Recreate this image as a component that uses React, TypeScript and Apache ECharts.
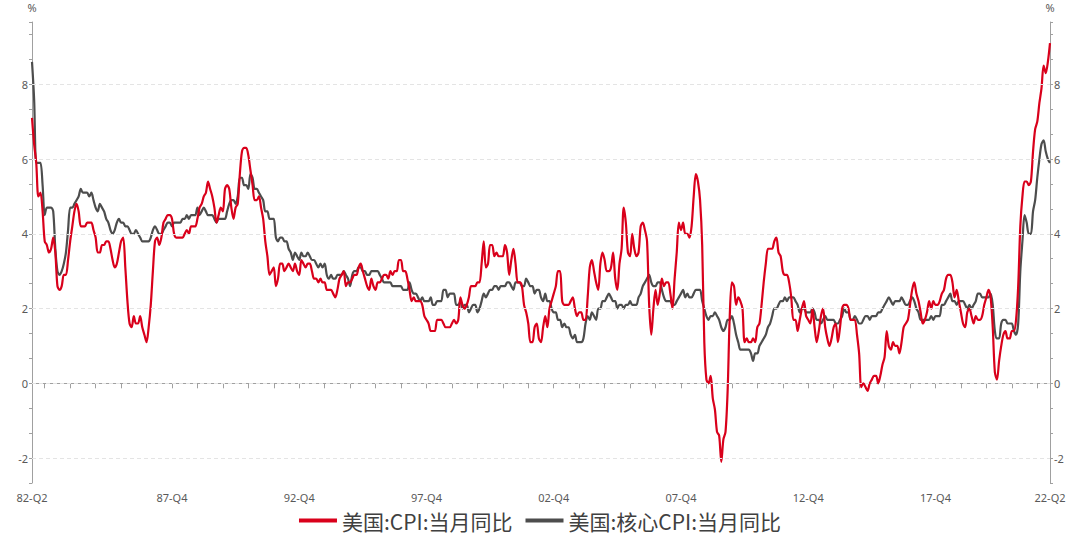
import React, { useEffect, useRef } from 'react';
import * as echarts from 'echarts';

// Monthly categories, Jun 1982 .. Jun 2022
const START = { year: 1982, month: 6 };
const END = { year: 2022, month: 6 };
const MONTHS: string[] = [];
{
  let y = START.year;
  let m = START.month;
  while (y < END.year || (y === END.year && m <= END.month)) {
    MONTHS.push(`${y}-${String(m).padStart(2, '0')}`);
    m++;
    if (m > 12) { m = 1; y++; }
  }
}

// Months that carry an x-axis label
const LABEL_MONTHS = ['1982-06', '1987-12', '1992-12', '1997-12', '2002-12', '2007-12', '2012-12', '2017-12', '2022-06'];
// Y values with a label and a dashed grid line
const Y_LABELS = [-2, 0, 2, 4, 6, 8];

const SERIES_CPI = '美国:CPI:当月同比';
const SERIES_CORE = '美国:核心CPI:当月同比';

// 美国:CPI:当月同比 (%), Jun 1982 .. Jun 2022
const CPI_YOY = [
  7.1, 6.4, 5.9, 5.0, 5.1, 4.6, 3.8, // 1982 Jun-Dec
  3.7, 3.5, 3.6, 3.9, 3.5, 2.6, 2.5, 2.6, 2.9, 2.9, 3.3, 3.8, // 1983
  4.2, 4.6, 4.8, 4.6, 4.2, 4.2, 4.2, 4.3, 4.3, 4.3, 4.1, 3.9, // 1984
  3.5, 3.5, 3.7, 3.7, 3.8, 3.8, 3.6, 3.3, 3.1, 3.2, 3.5, 3.8, // 1985
  3.9, 3.1, 2.2, 1.6, 1.5, 1.8, 1.6, 1.6, 1.8, 1.5, 1.3, 1.1, // 1986
  1.5, 2.1, 3.0, 3.8, 3.9, 3.7, 3.9, 4.3, 4.4, 4.5, 4.5, 4.4, // 1987
  4.0, 3.9, 3.9, 3.9, 3.9, 4.0, 4.1, 4.0, 4.2, 4.2, 4.2, 4.4, // 1988
  4.7, 4.8, 5.0, 5.1, 5.4, 5.2, 5.0, 4.7, 4.3, 4.5, 4.7, 4.6, // 1989
  5.2, 5.3, 5.2, 4.7, 4.4, 4.7, 4.8, 5.6, 6.2, 6.3, 6.3, 6.1, // 1990
  5.7, 5.3, 4.9, 4.9, 5.0, 4.7, 4.4, 3.8, 3.4, 2.9, 3.0, 3.1, // 1991
  2.6, 2.8, 3.2, 3.2, 3.0, 3.1, 3.2, 3.1, 3.0, 3.2, 3.0, 2.9, // 1992
  3.3, 3.2, 3.1, 3.2, 3.2, 3.0, 2.8, 2.8, 2.7, 2.8, 2.7, 2.7, // 1993
  2.5, 2.5, 2.5, 2.4, 2.3, 2.5, 2.8, 2.9, 3.0, 2.6, 2.7, 2.7, // 1994
  2.8, 2.9, 2.9, 3.1, 3.2, 3.0, 2.8, 2.6, 2.5, 2.8, 2.6, 2.5, // 1995
  2.7, 2.7, 2.8, 2.9, 2.9, 2.8, 3.0, 2.9, 3.0, 3.0, 3.3, 3.3, // 1996
  3.0, 3.0, 2.8, 2.5, 2.2, 2.3, 2.2, 2.2, 2.2, 2.1, 1.8, 1.7, // 1997
  1.6, 1.4, 1.4, 1.4, 1.7, 1.7, 1.7, 1.6, 1.5, 1.5, 1.5, 1.6, // 1998
  1.7, 1.6, 1.7, 2.3, 2.1, 2.0, 2.1, 2.3, 2.6, 2.6, 2.6, 2.7, // 1999
  2.7, 3.2, 3.8, 3.1, 3.2, 3.7, 3.7, 3.4, 3.5, 3.4, 3.4, 3.4, // 2000
  3.7, 3.5, 2.9, 3.3, 3.6, 3.2, 2.7, 2.7, 2.6, 2.1, 1.9, 1.6, // 2001
  1.1, 1.1, 1.5, 1.6, 1.2, 1.1, 1.5, 1.8, 1.5, 2.0, 2.2, 2.4, // 2002
  2.6, 3.0, 3.0, 2.2, 2.1, 2.1, 2.1, 2.2, 2.3, 2.0, 1.8, 1.9, // 2003
  1.9, 1.7, 1.7, 2.3, 3.1, 3.3, 3.0, 2.7, 2.5, 3.2, 3.5, 3.3, // 2004
  3.0, 3.0, 3.1, 3.5, 2.8, 2.5, 3.2, 3.6, 4.7, 4.3, 3.5, 3.4, // 2005
  4.0, 3.6, 3.4, 3.5, 4.2, 4.3, 4.1, 3.8, 2.1, 1.3, 2.0, 2.5, // 2006
  2.1, 2.4, 2.8, 2.6, 2.7, 2.7, 2.4, 2.0, 2.8, 3.5, 4.3, 4.1, // 2007
  4.3, 4.0, 4.0, 3.9, 4.2, 5.0, 5.6, 5.4, 4.9, 3.7, 1.1, 0.1, // 2008
  0.0, 0.2, -0.4, -0.7, -1.3, -1.4, -2.1, -1.5, -1.3, -0.2, 1.8, 2.7, // 2009
  2.6, 2.1, 2.3, 2.2, 2.0, 1.1, 1.2, 1.1, 1.1, 1.2, 1.1, 1.5, // 2010
  1.6, 2.1, 2.7, 3.2, 3.6, 3.6, 3.6, 3.8, 3.9, 3.5, 3.4, 3.0, // 2011
  2.9, 2.9, 2.7, 2.3, 1.7, 1.7, 1.4, 1.7, 2.0, 2.2, 1.8, 1.7, // 2012
  1.6, 2.0, 1.5, 1.1, 1.4, 1.8, 2.0, 1.5, 1.2, 1.0, 1.2, 1.5, // 2013
  1.6, 1.1, 1.5, 2.0, 2.1, 2.1, 2.0, 1.7, 1.7, 1.7, 1.3, 0.8, // 2014
  -0.1, 0.0, -0.1, -0.2, 0.0, 0.1, 0.2, 0.2, 0.0, 0.2, 0.5, 0.7, // 2015
  1.4, 1.0, 0.9, 1.1, 1.0, 1.0, 0.8, 1.1, 1.5, 1.6, 1.7, 2.1, // 2016
  2.5, 2.7, 2.4, 2.2, 1.9, 1.6, 1.7, 1.9, 2.2, 2.0, 2.2, 2.1, // 2017
  2.1, 2.2, 2.4, 2.5, 2.8, 2.9, 2.9, 2.7, 2.3, 2.5, 2.2, 1.9, // 2018
  1.6, 1.5, 1.9, 2.0, 1.8, 1.6, 1.8, 1.7, 1.7, 1.8, 2.1, 2.3, // 2019
  2.5, 2.3, 1.5, 0.3, 0.1, 0.6, 1.0, 1.3, 1.4, 1.2, 1.2, 1.4, // 2020
  1.4, 1.7, 2.6, 4.2, 5.0, 5.4, 5.4, 5.3, 5.4, 6.2, 6.8, 7.0, // 2021
  7.5, 7.9, 8.5, 8.3, 8.6, 9.1, // 2022 Jan-Jun
];

// 美国:核心CPI:当月同比 (%), Jun 1982 .. Jun 2022
const CORE_YOY = [
  8.6, 7.6, 5.9, 5.9, 5.9, 5.3, 4.5, // 1982 Jun-Dec
  4.7, 4.7, 4.7, 4.6, 3.6, 3.0, 2.9, 3.0, 3.2, 3.5, 4.1, 4.7, // 1983
  4.7, 4.8, 4.9, 5.0, 5.2, 5.1, 5.1, 5.1, 5.0, 5.1, 4.9, 4.7, // 1984
  4.6, 4.8, 4.7, 4.6, 4.4, 4.3, 4.1, 4.0, 4.1, 4.3, 4.4, 4.3, // 1985
  4.3, 4.2, 4.2, 4.1, 4.0, 4.0, 4.1, 4.0, 3.9, 3.8, 3.8, 3.8, // 1986
  3.8, 3.9, 4.1, 4.2, 4.1, 4.0, 4.0, 4.1, 4.2, 4.3, 4.3, 4.2, // 1987
  4.3, 4.3, 4.3, 4.3, 4.4, 4.4, 4.5, 4.4, 4.5, 4.5, 4.5, 4.7, // 1988
  4.5, 4.6, 4.7, 4.6, 4.5, 4.5, 4.5, 4.4, 4.3, 4.4, 4.4, 4.4, // 1989
  4.4, 4.6, 4.8, 4.9, 4.9, 4.8, 5.0, 5.5, 5.5, 5.3, 5.3, 5.2, // 1990
  5.6, 5.5, 5.2, 5.2, 5.1, 5.0, 4.9, 4.6, 4.6, 4.4, 4.4, 4.4, // 1991
  3.9, 3.8, 3.9, 3.9, 3.8, 3.8, 3.6, 3.5, 3.3, 3.5, 3.4, 3.3, // 1992
  3.5, 3.4, 3.4, 3.5, 3.4, 3.3, 3.3, 3.2, 3.1, 3.2, 3.1, 3.2, // 1993
  2.9, 2.8, 2.9, 2.8, 2.8, 2.9, 2.9, 2.9, 3.0, 2.9, 2.8, 2.6, // 1994
  2.9, 3.0, 3.0, 3.1, 3.1, 3.0, 3.0, 2.9, 2.9, 3.0, 3.0, 3.0, // 1995
  3.0, 2.9, 2.8, 2.7, 2.7, 2.7, 2.7, 2.6, 2.6, 2.6, 2.6, 2.6, // 1996
  2.5, 2.5, 2.5, 2.7, 2.5, 2.4, 2.4, 2.3, 2.2, 2.3, 2.2, 2.2, // 1997
  2.2, 2.3, 2.1, 2.1, 2.2, 2.2, 2.2, 2.5, 2.5, 2.3, 2.4, 2.4, // 1998
  2.4, 2.1, 2.1, 2.2, 2.0, 2.1, 2.1, 1.9, 2.0, 2.1, 2.1, 1.9, // 1999
  2.0, 2.2, 2.4, 2.3, 2.4, 2.5, 2.5, 2.6, 2.6, 2.5, 2.6, 2.6, // 2000
  2.6, 2.7, 2.7, 2.6, 2.5, 2.7, 2.7, 2.7, 2.6, 2.6, 2.8, 2.7, // 2001
  2.6, 2.6, 2.4, 2.5, 2.5, 2.3, 2.2, 2.4, 2.2, 2.2, 2.0, 1.9, // 2002
  1.9, 1.7, 1.7, 1.5, 1.6, 1.5, 1.5, 1.3, 1.2, 1.3, 1.1, 1.1, // 2003
  1.1, 1.2, 1.6, 1.8, 1.7, 1.9, 1.8, 1.7, 2.0, 2.0, 2.2, 2.2, // 2004
  2.3, 2.4, 2.3, 2.2, 2.2, 2.0, 2.1, 2.1, 2.0, 2.1, 2.1, 2.2, // 2005
  2.1, 2.1, 2.1, 2.3, 2.4, 2.6, 2.7, 2.8, 2.9, 2.7, 2.6, 2.6, // 2006
  2.7, 2.7, 2.5, 2.3, 2.2, 2.2, 2.2, 2.1, 2.1, 2.2, 2.3, 2.4, // 2007
  2.5, 2.3, 2.4, 2.3, 2.3, 2.4, 2.5, 2.5, 2.5, 2.2, 2.0, 1.8, // 2008
  1.7, 1.8, 1.8, 1.9, 1.8, 1.7, 1.5, 1.4, 1.5, 1.7, 1.7, 1.8, // 2009
  1.6, 1.3, 1.1, 0.9, 0.9, 0.9, 0.9, 0.9, 0.8, 0.6, 0.8, 0.8, // 2010
  1.0, 1.1, 1.2, 1.3, 1.5, 1.6, 1.8, 2.0, 2.0, 2.1, 2.2, 2.2, // 2011
  2.3, 2.2, 2.3, 2.3, 2.3, 2.2, 2.1, 1.9, 2.0, 2.0, 1.9, 1.9, // 2012
  1.9, 2.0, 1.9, 1.7, 1.7, 1.6, 1.7, 1.8, 1.7, 1.7, 1.7, 1.7, // 2013
  1.6, 1.6, 1.7, 1.8, 2.0, 1.9, 1.9, 1.7, 1.7, 1.8, 1.7, 1.6, // 2014
  1.6, 1.7, 1.8, 1.8, 1.7, 1.8, 1.8, 1.8, 1.9, 1.9, 2.0, 2.1, // 2015
  2.2, 2.3, 2.2, 2.1, 2.2, 2.2, 2.2, 2.3, 2.2, 2.1, 2.1, 2.2, // 2016
  2.3, 2.2, 2.0, 1.9, 1.7, 1.7, 1.7, 1.7, 1.7, 1.8, 1.7, 1.8, // 2017
  1.8, 1.8, 2.1, 2.1, 2.2, 2.3, 2.4, 2.2, 2.2, 2.1, 2.2, 2.2, // 2018
  2.2, 2.1, 2.0, 2.1, 2.0, 2.1, 2.2, 2.4, 2.4, 2.3, 2.3, 2.3, // 2019
  2.3, 2.4, 2.1, 1.4, 1.2, 1.2, 1.6, 1.7, 1.7, 1.6, 1.6, 1.6, // 2020
  1.4, 1.3, 1.6, 3.0, 3.8, 4.5, 4.3, 4.0, 4.0, 4.6, 4.9, 5.5, // 2021
  6.0, 6.4, 6.5, 6.2, 6.0, 5.9, // 2022 Jan-Jun
];

const Y_MIN = -8 / 3;
const Y_MAX = 29 / 3;
const Y_STEP = 2 / 3;

const AXIS_COLOR = '#a0a0a0';
const LABEL_COLOR = '#595959';

function yLabel(v: number): string {
  const r = Math.round(v);
  if (Math.abs(v - r) < 1e-6 && Y_LABELS.includes(r)) return String(r);
  return '';
}

function xLabel(v: string): string {
  const m = Number(v.slice(5, 7));
  return `${v.slice(2, 4)}-Q${Math.ceil(m / 3)}`;
}

function makeYAxis(position: 'left' | 'right') {
  return {
    type: 'value',
    position,
    min: Y_MIN,
    max: Y_MAX,
    interval: Y_STEP,
    name: '%',
    nameLocation: 'end',
    nameGap: 9,
    nameTextStyle: { color: LABEL_COLOR, fontSize: 11, fontFamily: 'Noto Sans', align: 'center' },
    axisLine: { show: true, lineStyle: { color: AXIS_COLOR, width: 1 } },
    axisTick: { show: true, length: 3, lineStyle: { color: AXIS_COLOR } },
    axisLabel: {
      show: true,
      color: LABEL_COLOR,
      fontSize: 11,
      fontFamily: 'Noto Sans',
      margin: 4,
      formatter: yLabel,
    },
    splitLine: { show: false },
  };
}

export default function App() {
  const ref = useRef<HTMLDivElement>(null);

  useEffect(() => {
    if (!ref.current) return;
    const chart = echarts.init(ref.current, undefined, { renderer: 'svg' });
    const last = MONTHS.length - 1;
    chart.setOption({
      animation: false,
      backgroundColor: '#ffffff',
      grid: { left: 32, right: 30, top: 22, bottom: 54, containLabel: false },
      legend: {
        data: [SERIES_CPI, SERIES_CORE],
        left: 'center',
        bottom: 1,
        icon: 'rect',
        itemWidth: 38,
        itemHeight: 4,
        itemGap: 13,
        textStyle: { color: '#404040', fontSize: 21, fontFamily: 'Noto Sans CJK SC' },
      },
      xAxis: {
        type: 'category',
        data: MONTHS,
        boundaryGap: false,
        axisLine: { show: true, lineStyle: { color: AXIS_COLOR, width: 1 } },
        axisTick: {
          show: true,
          length: 5,
          lineStyle: { color: AXIS_COLOR },
          interval: (index: number, value: string) => value.endsWith('-12') || index === last,
        },
        axisLabel: {
          color: LABEL_COLOR,
          fontSize: 11,
          fontFamily: 'Noto Sans',
          margin: 9,
          interval: (_index: number, value: string) => LABEL_MONTHS.includes(value),
          formatter: xLabel,
        },
        splitLine: { show: false },
      },
      yAxis: [makeYAxis('left'), makeYAxis('right')],
      series: [
        {
          name: '__grid',
          type: 'line',
          yAxisIndex: 0,
          data: MONTHS.map(() => null),
          showSymbol: false,
          silent: true,
          z: 1,
          lineStyle: { opacity: 0 },
          markLine: {
            silent: true,
            symbol: ['none', 'none'],
            label: { show: false },
            lineStyle: { type: [4, 3], color: '#e4e4e4', width: 1 },
            data: Y_LABELS.map((v) => ({ yAxis: v })),
          },
        },
        {
          name: SERIES_CORE,
          type: 'line',
          data: CORE_YOY,
          showSymbol: false,
          smooth: 0.3,
          z: 3,
          color: '#4d4d4d',
          lineStyle: { color: '#4d4d4d', width: 2.2 },
        },
        {
          name: SERIES_CPI,
          type: 'line',
          data: CPI_YOY,
          showSymbol: false,
          smooth: 0.3,
          z: 4,
          color: '#d9001b',
          lineStyle: { color: '#d9001b', width: 2.2 },
        },
      ],
    });
    return () => chart.dispose();
  }, []);

  return (
    <div
      ref={ref}
      style={{ position: 'fixed', left: 0, top: 0, width: 1080, height: 537, background: '#fff' }}
    />
  );
}
